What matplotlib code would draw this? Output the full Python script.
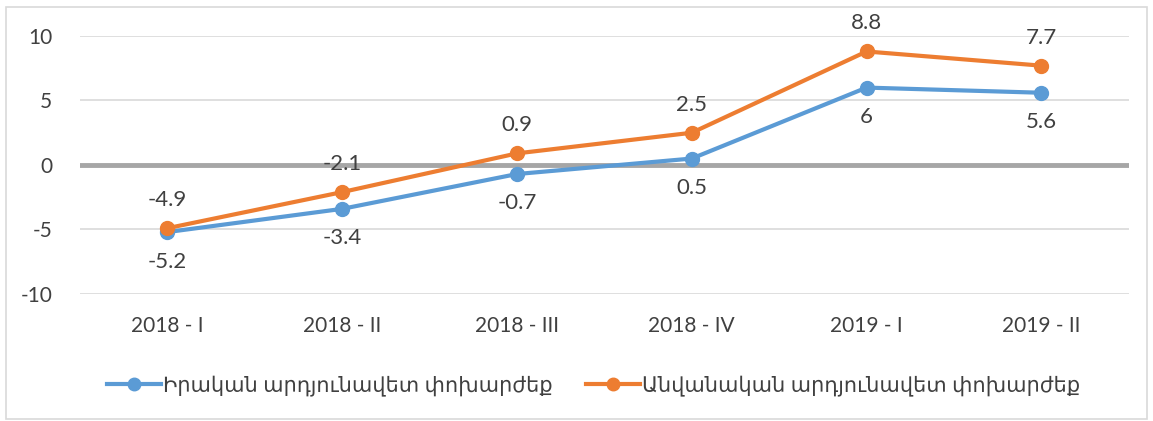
import matplotlib
matplotlib.use('Agg')
import matplotlib.pyplot as plt
from matplotlib.patches import Rectangle

plt.rcParams['font.family'] = ['Lato', 'DejaVu Sans']
plt.rcParams['axes.unicode_minus'] = False

quarters = ['2018 - I', '2018 - II', '2018 - III', '2018 - IV', '2019 - I', '2019 - II']
real = [-5.2, -3.4, -0.7, 0.5, 6.0, 5.6]
nominal = [-4.9, -2.1, 0.9, 2.5, 8.8, 7.7]
real_name = 'Իրական արդյունավետ փոխարժեք'
nominal_name = 'Անվանական արդյունավետ փոխարժեք'

blue = '#5B9BD5'
orange = '#ED7D31'
txt = '#404040'

fig = plt.figure(figsize=(11.53, 4.21), dpi=100)
ax = fig.add_axes([0.0694, 0.3017, 0.9096, 0.6128])

# outer chart border
fig.patches.append(Rectangle((0.005, 0.005), 0.99, 0.978, transform=fig.transFigure,
                             fill=False, edgecolor='#D9D9D9', linewidth=1.2))

x = range(len(quarters))
for yy in [-10, -5, 5, 10]:
    ax.axhline(yy, color='#D9D9D9', linewidth=1.2, zorder=0)
ax.axhline(0, color='#A6A6A6', linewidth=3.5, zorder=1)

ax.plot(x, real, color=blue, linewidth=3, marker='o', markersize=10, label=real_name, zorder=3)
ax.plot(x, nominal, color=orange, linewidth=3, marker='o', markersize=10, label=nominal_name, zorder=4)

def fmt(v):
    return '%g' % v

for i in x:
    ax.annotate(fmt(real[i]), (i, real[i]), xytext=(0, -14), textcoords='offset points',
                ha='center', va='top', fontsize=16, color=txt)
    ax.annotate(fmt(nominal[i]), (i, nominal[i]), xytext=(0, 13), textcoords='offset points',
                ha='center', va='bottom', fontsize=16, color=txt)

ax.set_xlim(-0.5, len(quarters) - 0.5)
ax.set_ylim(-10, 10)
ax.set_yticks([-10, -5, 0, 5, 10])
ax.set_xticks(list(x))
ax.set_xticklabels(quarters)
ax.tick_params(axis='both', length=0, labelsize=15, labelcolor=txt)
ax.tick_params(axis='x', pad=16)
ax.tick_params(axis='y', pad=20)
for s in ax.spines.values():
    s.set_visible(False)

fig.legend(loc='center', bbox_to_anchor=(0.515, 0.085), ncol=2, frameon=False,
           fontsize=15, labelcolor=txt, handlelength=2.6, handletextpad=0.1,
           columnspacing=1.6, markerscale=0.9)

fig.savefig('out.png', dpi=100)
